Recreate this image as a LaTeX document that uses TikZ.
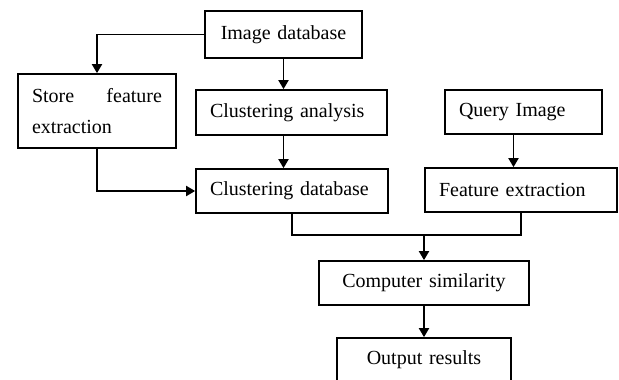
\documentclass[tikz,border=0pt]{standalone}
\usepackage{fontspec}
\setmainfont{Liberation Serif}
\usetikzlibrary{arrows.meta}
\hyphenpenalty=10000

\tikzset{
    box/.style={draw, line width=1.7pt, inner xsep=14pt, inner ysep=0pt, align=left,
        font=\fontsize{20}{31}\selectfont},
    arr/.style={line width=1.8pt, -{Triangle[width=10pt,length=9pt]}}
}

\begin{document}
\begin{tikzpicture}[x=1pt, y=-1pt]
    \useasboundingbox (0, 0) rectangle (619, 380);
    \clip (0, 0) rectangle (619, 380);
    % boxes, placed by their centres
    \node (imgdb) at (283.5, 34.5) [box, text width=129pt, minimum height=47pt, align=center] {Image database};
    \node (store) at (97, 111) [box, text width=130pt, minimum height=74pt, align=justify] {Store feature extraction};
    \node (clana) at (291.5, 112.5) [box, text width=163pt, minimum height=45pt] {Clustering analysis};
    \node (cldb) at (292, 191) [box, text width=164pt, minimum height=44pt] {Clustering database};
    \node (query) at (523.5, 112) [box, text width=129pt, minimum height=44pt] {Query Image};
    \node (feat) at (521, 190) [box, text width=164pt, minimum height=44pt] {Feature extraction};
    \node (sim) at (424, 283) [box, text width=182pt, minimum height=44pt, align=center] {Computer similarity};
    \node (out) at (424, 360) [box, text width=146pt, minimum height=44pt, align=center] {Output results};
    \coordinate (join) at (424, 235);
    % connectors
    \draw[arr] (imgdb.west) -| (store.north);
    \draw[arr] (imgdb.south) -- (imgdb.south |- clana.north);
    \draw[arr] (imgdb.south |- clana.south) -- (imgdb.south |- cldb.north);
    \draw[arr] (store.south) |- (cldb.west);
    \draw[arr] ([xshift=-10pt]query.south) -- ([xshift=-10pt]query.south |- feat.north);
    \draw[line width=1.8pt] (cldb.south) |- (join) -| (feat.south);
    \draw[arr] (join) -- (sim.north);
    \draw[arr] (sim.south) -- (out.north);
\end{tikzpicture}
\end{document}
